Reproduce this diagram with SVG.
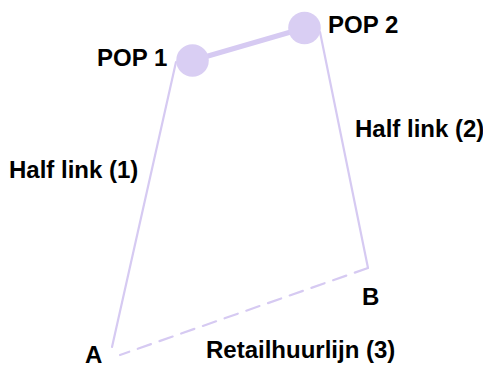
<svg xmlns="http://www.w3.org/2000/svg" width="483" height="365" viewBox="0 0 483 365">
<style>
text{font-family:"Liberation Sans",Arial,sans-serif;font-weight:bold;font-size:24px;fill:#000}
.ln{stroke:#d6caf2;stroke-width:2.2;fill:none;stroke-linecap:round}
.dash{stroke-dasharray:14 9}
.pop{fill:#d9cef3}
</style>
<rect width="483" height="365" fill="#fff"/>
<g id="connectors">
<line class="ln" x1="192.5" y1="60.5" x2="304.5" y2="28" style="stroke-width:5"/>
<line class="ln" x1="176" y1="62" x2="112" y2="347"/>
<line class="ln" x1="320" y1="32" x2="368" y2="268"/>
<line class="ln dash" x1="368" y1="268" x2="120" y2="355"/>
</g>
<g id="pop1">
<circle class="pop" cx="192.5" cy="60.5" r="16.3"/>
<text x="97" y="66">POP 1</text>
</g>
<g id="pop2">
<circle class="pop" cx="304.5" cy="28" r="16.3"/>
<text x="328" y="33">POP 2</text>
</g>
<g id="nodeA"><text x="85" y="363">A</text></g>
<g id="nodeB"><text x="362" y="305">B</text></g>
<g id="labels">
<text x="9" y="178">Half link (1)</text>
<text x="355" y="137">Half link (2)</text>
<text x="206" y="358">Retailhuurlijn (3)</text>
</g>
</svg>
